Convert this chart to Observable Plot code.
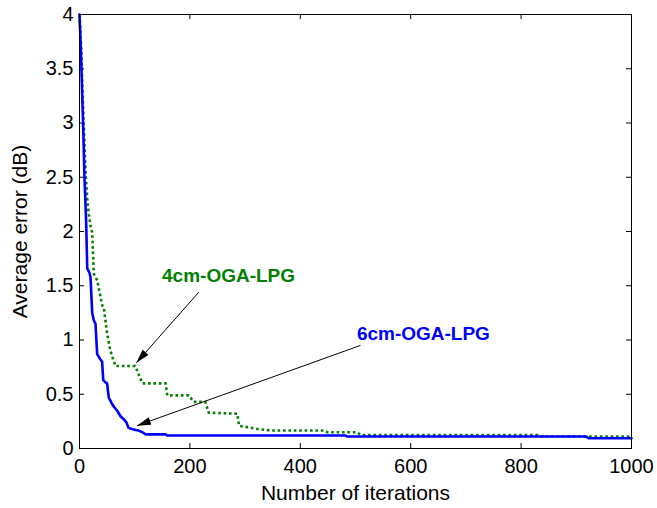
<!DOCTYPE html>
<html>
<head>
<meta charset="utf-8">
<script src="https://cdn.jsdelivr.net/npm/d3@7"></script>
<script src="https://cdn.jsdelivr.net/npm/@observablehq/plot@0.6"></script>
<style>
  html, body { margin: 0; padding: 0; background: #fff; }
  #chart svg { display: block; }
</style>
</head>
<body>
<div id="chart"></div>
<script>
// 6cm-OGA-LPG (blue, solid)
const blueX = [0, 3, 5, 7, 9, 12, 14, 18, 20, 23, 26, 29, 32, 38, 41, 43, 47, 50, 53, 58, 63, 68, 74, 80, 85, 89, 95, 102, 107, 114, 120, 156, 159, 482, 485, 918, 922, 1000];
const blueY = [4, 3.6, 3.25, 2.9, 2.5, 2.1, 1.66, 1.62, 1.58, 1.25, 1.18, 1.15, 0.87, 0.82, 0.80, 0.63, 0.61, 0.60, 0.47, 0.42, 0.38, 0.35, 0.30, 0.27, 0.24, 0.19, 0.18, 0.17, 0.165, 0.15, 0.13, 0.13, 0.12, 0.12, 0.11, 0.11, 0.095, 0.095];
// 4cm-OGA-LPG (green, dotted)
const greenX = [0, 3, 5, 8, 11, 14, 17, 20, 23, 26, 32, 38, 41, 44, 50, 56, 65, 101, 114, 156, 159, 198, 207, 228, 234, 286, 289, 322, 346, 443, 449, 503, 509, 830, 836, 1000];
const greenY = [4, 3.7, 3.35, 2.95, 2.55, 2.3, 2.16, 2.05, 1.99, 1.61, 1.55, 1.4, 1.32, 1.30, 1.06, 0.90, 0.76, 0.76, 0.60, 0.60, 0.49, 0.49, 0.43, 0.43, 0.33, 0.32, 0.21, 0.18, 0.166, 0.166, 0.15, 0.15, 0.125, 0.125, 0.11, 0.11];

const xTicks = [0, 200, 400, 600, 800, 1000];
const yTicks = [0, 0.5, 1, 1.5, 2, 2.5, 3, 3.5, 4];
const xTitle = "Number of iterations";
const yTitle = "Average error (dB)";

const labelNames = ["4cm-OGA-LPG", "6cm-OGA-LPG"];
const labelColors = ["#008000", "#0000ff"];
const labelX = [270, 623];
const labelY = [1.59, 1.06];
const arrowX1 = [216, 509];
const arrowY1 = [1.44, 0.95];
const arrowX2 = [103, 104];
const arrowY2 = [0.79, 0.21];

const blue = blueX.map((x, i) => ({x, y: blueY[i]}));
const green = greenX.map((x, i) => ({x, y: greenY[i]}));
const labels = labelNames.map((t, i) => ({t, c: labelColors[i], x: labelX[i], y: labelY[i]}));
const arrows = arrowX1.map((x1, i) => ({x1, y1: arrowY1[i], x2: arrowX2[i], y2: arrowY2[i]}));

const W = 657, H = 508;
const mL = 79, mR = 26, mT = 14, mB = 60;
const pw = W - mL - mR, ph = H - mT - mB;
const tl = 5;

const font = "'Liberation Sans', Arial, Helvetica, sans-serif";

const svg = Plot.plot({
  width: W,
  height: H,
  marginLeft: mL,
  marginRight: mR,
  marginTop: mT,
  marginBottom: mB,
  style: {fontFamily: font, fontSize: "20px", color: "#000", background: "#fff"},
  x: {domain: [0, 1000]},
  y: {domain: [0, 4]},
  marks: [
    Plot.axisX(xTicks, {tickSize: 0, tickPadding: 10, tickFormat: d => String(d), label: null, fontSize: 20}),
    Plot.axisY(yTicks, {tickSize: 0, tickPadding: 6, tickFormat: d => String(d), label: null, fontSize: 20}),
    Plot.text([xTitle], {text: d => d, frameAnchor: "bottom", dy: 45, fontSize: 21, textAnchor: "middle", lineAnchor: "middle"}),
    Plot.text([yTitle], {text: d => d, frameAnchor: "left", dx: -59, rotate: -90, fontSize: 21, textAnchor: "middle", lineAnchor: "middle"}),
    Plot.tickX(xTicks, {x: d => d, insetTop: ph - tl, stroke: "#000"}),
    Plot.tickX(xTicks, {x: d => d, insetBottom: ph - tl, stroke: "#000"}),
    Plot.tickY(yTicks, {y: d => d, insetRight: pw - tl, stroke: "#000"}),
    Plot.tickY(yTicks, {y: d => d, insetLeft: pw - tl, stroke: "#000"}),
    Plot.line(green, {x: "x", y: "y", stroke: "#008000", strokeWidth: 2.6, strokeDasharray: "2.6,2.8", strokeLinecap: "butt"}),
    Plot.line(blue, {x: "x", y: "y", stroke: "#0000ff", strokeWidth: 2.6}),
    Plot.link(arrows, {x1: "x1", y1: "y1", x2: "x2", y2: "y2", stroke: "#000", strokeWidth: 1}),
    Plot.text(labels, {x: "x", y: "y", text: "t", fill: "c", fontSize: 19, fontWeight: "bold", textAnchor: "middle", lineAnchor: "middle"}),
    Plot.frame({stroke: "#000", strokeWidth: 1})
  ]
});

// filled arrowheads attached to the link paths
const ns = "http://www.w3.org/2000/svg";
const defs = document.createElementNS(ns, "defs");
const marker = document.createElementNS(ns, "marker");
marker.setAttribute("id", "filledHead");
marker.setAttribute("viewBox", "0 0 14 8");
marker.setAttribute("refX", "14");
marker.setAttribute("refY", "4");
marker.setAttribute("markerWidth", "14");
marker.setAttribute("markerHeight", "8");
marker.setAttribute("markerUnits", "userSpaceOnUse");
marker.setAttribute("orient", "auto");
const mp = document.createElementNS(ns, "path");
mp.setAttribute("d", "M0,0L14,4L0,8Z");
mp.setAttribute("fill", "#000");
mp.setAttribute("stroke", "none");
marker.appendChild(mp);
defs.appendChild(marker);
svg.insertBefore(defs, svg.firstChild);
svg.querySelectorAll('g[aria-label="link"] path, g[aria-label="link"] line').forEach(p => p.setAttribute("marker-end", "url(#filledHead)"));

document.getElementById("chart").appendChild(svg);
</script>
</body>
</html>
